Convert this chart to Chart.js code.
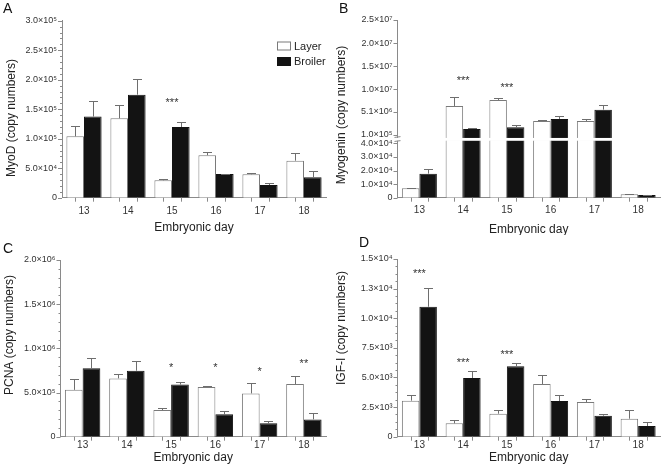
<!DOCTYPE html>
<html>
<head>
<meta charset="utf-8">
<style>
  body { margin:0; background:#fff; width:664px; height:471px; position:relative; overflow:hidden; font-family:"Liberation Sans", Arial, sans-serif; }
  .pane { position:absolute; }
  .tag { position:absolute; font-size:14px; line-height:14px; color:#111; }
</style>
</head>
<body>
<div class="pane" style="left:0;top:0"><canvas id="cA" width="332" height="235"></canvas></div>
<div class="pane" style="left:332px;top:0"><canvas id="cB" width="332" height="235"></canvas></div>
<div class="pane" style="left:0;top:235px"><canvas id="cC" width="332" height="236"></canvas></div>
<div class="pane" style="left:332px;top:235px"><canvas id="cD" width="332" height="236"></canvas></div>
<div class="tag" style="left:3px;top:1px">A</div>
<div class="tag" style="left:339px;top:1px">B</div>
<div class="tag" style="left:3px;top:241px">C</div>
<div class="tag" style="left:359px;top:235px">D</div>

<script src="https://cdn.jsdelivr.net/npm/chart.js"></script>
<script>
  const days = ['13', '14', '15', '16', '17', '18'];

  // A - MyoD
  const layerA     = [104000, 134500, 29500, 72000, 39700, 62700];
  const layerAErr  = [18000, 22000, 2000, 6000, 2300, 12400];
  const broilerA   = [137500, 174600, 119800, 40000, 21500, 34600];
  const broilerAErr = [26500, 26000, 8000, 1000, 2800, 11300];
  const sigA  = ['', '', '***', '', '', ''];
  const sigAy = [null, null, 165600, null, null, null];

  // B - Myogenin (broken axis)
  const layerB     = [6900, 6380000, 7680000, 3130000, 3130000, 2500];
  const layerBErr  = [300, 2000000, 360000, 220000, 360000, 400];
  const broilerB   = [17700, 1400000, 1760000, 3560000, 5580000, 2000];
  const broilerBErr = [3200, 290000, 430000, 580000, 1090000, 200];
  const sigB  = ['', '***', '***', '', '', ''];
  const sigBy = [null, 12600000, 11000000, null, null, null];

  // C - PCNA
  const layerC     = [530000, 660000, 302000, 562000, 490000, 596000];
  const layerCErr  = [118000, 46000, 19000, 12000, 114000, 94000];
  const broilerC   = [774000, 747000, 590000, 253000, 151000, 196000];
  const broilerCErr = [113000, 110000, 33000, 37000, 23000, 68000];
  const sigC  = ['', '', '*', '*', '*', '**'];
  const sigCy = [null, null, 811000, 811000, 774000, 860000];

  // D - IGF-I
  const layerD     = [3040, 1130, 1940, 4450, 2930, 1520];
  const layerDErr  = [480, 280, 290, 730, 230, 710];
  const broilerD   = [10970, 4960, 5940, 3010, 1770, 900];
  const broilerDErr = [1580, 610, 310, 510, 120, 320];
  const sigD  = ['***', '***', '***', '', '', ''];
  const sigDy = [14000, 6530, 7170, null, null, null];

  const yTicksA = [0, 50000, 100000, 150000, 200000, 250000, 300000];
  const yTicksBLow = [0, 10000, 20000, 30000, 40000];
  const yTicksBHigh = [100000, 5100000, 10000000, 15000000, 20000000, 25000000];
  const yTicksC = [0, 500000, 1000000, 1500000, 2000000];
  const yTicksD = [0, 2500, 5000, 7500, 10000, 12500, 15000];

  const lowMax = 43000;      // top of lower segment in B
  const highMin = -830000;   // bottom of upper segment in B

  const LAYER = { backgroundColor: '#ffffff', borderColor: '#7a7a7a' };
  const BROILER = { backgroundColor: '#131313', borderColor: '#131313' };
  const AXIS = '#8a8a8a';

  Chart.defaults.font.family = '"Liberation Sans", Arial, sans-serif';

  const sup = { '0': '⁰', '1': '¹', '2': '²', '3': '³', '4': '⁴', '5': '⁵', '6': '⁶', '7': '⁷', '8': '⁸', '9': '⁹' };
  function sci(v) {
    if (v === 0) return '0';
    const e = Math.floor(Math.log10(v) + 1e-9);
    const m = v / Math.pow(10, e);
    return m.toFixed(1) + '×10' + String(e).split('').map(c => sup[c]).join('');
  }

  function minorList(ticks, step) {
    const out = [];
    const lo = ticks[0], hi = ticks[ticks.length - 1];
    for (let v = lo; v <= hi + 1e-6; v += step) {
      if (!ticks.some(t => Math.abs(t - v) < step / 10)) out.push(v);
    }
    return out;
  }

  // error bars, tick marks, significance stars, legend, axis break, y title
  const marks = {
    id: 'marks',
    afterDraw(chart, args, o) {
      const ctx = chart.ctx, area = chart.chartArea;
      ctx.save();

      if (o.brk) {
        const yb = chart.scales[o.brk].top;
        ctx.fillStyle = '#fff';
        ctx.fillRect(area.left - 1, yb - 1.3, area.right - area.left + 2, 2.8);
        ctx.strokeStyle = AXIS; ctx.lineWidth = 1;
        ctx.beginPath();
        ctx.moveTo(area.left - 3, yb - 1.8); ctx.lineTo(area.left + 3, yb - 2.6);
        ctx.moveTo(area.left - 3, yb + 2.2); ctx.lineTo(area.left + 3, yb + 1.4);
        ctx.stroke();
      }

      // y tick marks
      ctx.strokeStyle = AXIS; ctx.lineWidth = 1;
      (o.yticks || []).forEach(t => {
        const s = chart.scales[t.id];
        ctx.beginPath();
        t.major.forEach(v => { const y = Math.round(s.getPixelForValue(v)) + 0.5; ctx.moveTo(s.right - 4, y); ctx.lineTo(s.right, y); });
        (t.minor || []).forEach(v => { const y = Math.round(s.getPixelForValue(v)) + 0.5; ctx.moveTo(s.right - 2, y); ctx.lineTo(s.right, y); });
        ctx.stroke();
      });

      // x tick marks under each bar
      const m0 = chart.getDatasetMeta(0), m1 = chart.getDatasetMeta(1);
      ctx.beginPath();
      [m0, m1].forEach(m => m.data.forEach(bar => {
        const x = Math.round(bar.x) + 0.5;
        ctx.moveTo(x, area.bottom); ctx.lineTo(x, area.bottom + 4);
      }));
      ctx.stroke();

      // error bars
      ctx.strokeStyle = '#6e6e6e';
      chart.data.datasets.forEach((ds, i) => {
        if (!ds.err) return;
        const meta = chart.getDatasetMeta(i);
        const ys = chart.scales[meta.yAxisID];
        meta.data.forEach((bar, j) => {
          const v = ds.data[j], e = ds.err[j];
          if (v == null || e == null) return;
          const x = Math.round(bar.x) + 0.5;
          const y0 = ys.getPixelForValue(v), y1 = Math.round(ys.getPixelForValue(v + e)) + 0.5;
          ctx.beginPath();
          ctx.moveTo(x, y0); ctx.lineTo(x, y1);
          ctx.moveTo(x - 4.5, y1); ctx.lineTo(x + 4.5, y1);
          ctx.stroke();
        });
      });

      // significance stars
      if (o.stars) {
        const ys = chart.scales[o.stars.axis];
        ctx.fillStyle = '#333';
        ctx.font = '11px "Liberation Sans", Arial, sans-serif';
        ctx.textAlign = 'center';
        ctx.textBaseline = 'alphabetic';
        o.stars.text.forEach((t, j) => {
          if (!t) return;
          const x = (m0.data[j].x + m1.data[j].x) / 2;
          ctx.fillText(t, x, ys.getPixelForValue(o.stars.at[j]) + 6.4);
        });
      }

      // legend
      if (o.legend) {
        const L = o.legend;
        ctx.font = '11px "Liberation Sans", Arial, sans-serif';
        ctx.textAlign = 'left';
        ctx.textBaseline = 'middle';
        [0, 1].forEach(i => {
          const ds = chart.data.datasets[i];
          const y = L.y + i * L.dy;
          ctx.fillStyle = ds.backgroundColor;
          ctx.fillRect(L.x, y, L.w, L.h);
          ctx.strokeStyle = ds.borderColor;
          ctx.strokeRect(L.x + 0.5, y + 0.5, L.w - 1, L.h - 1);
          ctx.fillStyle = '#222';
          ctx.fillText(ds.label, L.x + L.w + 3, y + L.h / 2 + 0.5);
        });
      }

      // y title
      if (o.ytitle) {
        ctx.translate(o.ytitle.x, o.ytitle.y);
        ctx.rotate(-Math.PI / 2);
        ctx.fillStyle = '#222';
        ctx.font = '12px "Liberation Sans", Arial, sans-serif';
        ctx.textAlign = 'center';
        ctx.textBaseline = 'middle';
        ctx.fillText(o.ytitle.text, 0, 0);
      }
      ctx.restore();
    }
  };

  function yAxis(min, max, ticks, width, extra) {
    return Object.assign({
      type: 'linear', min: min, max: max, stacked: false,
      grid: { display: false, drawTicks: false },
      border: { display: true, color: AXIS, width: 1 },
      ticks: { color: '#333', font: { size: 9 }, padding: 5, autoSkip: false, callback: v => sci(v) },
      afterBuildTicks: s => { s.ticks = ticks.map(v => ({ value: v })); },
      afterFit: s => { s.width = width; }
    }, extra || {});
  }

  function xAxis(height, pad, titlePad) {
    return {
      grid: { display: false, drawTicks: false },
      border: { display: true, color: AXIS, width: 1 },
      ticks: { color: '#333', font: { size: 10 }, padding: pad },
      title: { display: true, text: 'Embryonic day', color: '#222', font: { size: 12 }, padding: { top: 0, bottom: titlePad } },
      afterFit: s => { s.height = height; }
    };
  }

  function series(label, data, err, style, extra) {
    return Object.assign({ label: label, data: data, err: err, borderWidth: 1 }, style, extra || {});
  }

  function makeChart(id, cfg) {
    return new Chart(document.getElementById(id), {
      type: 'bar',
      data: { labels: days, datasets: cfg.datasets },
      options: {
        responsive: false,
        animation: false,
        layout: { padding: { left: 0, top: cfg.top, right: cfg.right, bottom: 0 } },
        datasets: { bar: { categoryPercentage: 0.8, barPercentage: 1 } },
        plugins: { legend: { display: false }, tooltip: { enabled: false }, marks: cfg.marks },
        scales: cfg.scales
      },
      plugins: [marks]
    });
  }

  // A
  makeChart('cA', {
    top: 20.7, right: 6,
    datasets: [
      series('Layer', layerA, layerAErr, LAYER),
      series('Broiler', broilerA, broilerAErr, BROILER)
    ],
    scales: { x: xAxis(37.3, 7.5, 0), y: yAxis(0, 300000, yTicksA, 62) },
    marks: {
      yticks: [{ id: 'y', major: yTicksA, minor: minorList(yTicksA, 10000) }],
      stars: { axis: 'y', text: sigA, at: sigAy },
      legend: { x: 277, y: 41.5, dy: 15.5, w: 14, h: 9 },
      ytitle: { text: 'MyoD (copy numbers)', x: 11.7, y: 118 }
    }
  });

  // B
  makeChart('cB', {
    top: 20, right: 4,
    datasets: [
      series('Layer', layerB.map(v => Math.min(v, lowMax)), layerB.map((v, i) => v <= lowMax ? layerBErr[i] : null), LAYER, { yAxisID: 'yLow', stack: 'L' }),
      series('Broiler', broilerB.map(v => Math.min(v, lowMax)), broilerB.map((v, i) => v <= lowMax ? broilerBErr[i] : null), BROILER, { yAxisID: 'yLow', stack: 'B' }),
      series('Layer', layerB.map(v => v > lowMax ? v : null), layerB.map((v, i) => v > lowMax ? layerBErr[i] : null), LAYER, { yAxisID: 'yHigh', stack: 'L', base: highMin }),
      series('Broiler', broilerB.map(v => v > lowMax ? v : null), broilerB.map((v, i) => v > lowMax ? broilerBErr[i] : null), BROILER, { yAxisID: 'yHigh', stack: 'B', base: highMin })
    ],
    scales: {
      x: xAxis(37.3, 6.8, -2.2),
      yLow: yAxis(0, lowMax, yTicksBLow, 65.5, { position: 'left', stack: 'yb', stackWeight: 1 }),
      yHigh: yAxis(highMin, 25000000, yTicksBHigh, 65.5, { position: 'left', stack: 'yb', stackWeight: 2.04 })
    },
    marks: {
      brk: 'yLow',
      yticks: [{ id: 'yHigh', major: yTicksBHigh }, { id: 'yLow', major: yTicksBLow }],
      stars: { axis: 'yHigh', text: sigB, at: sigBy },
      ytitle: { text: 'Myogenin (copy numbers)', x: 9.7, y: 115 }
    }
  });

  // C
  makeChart('cC', {
    top: 25, right: 6,
    datasets: [
      series('Layer', layerC, layerCErr, LAYER),
      series('Broiler', broilerC, broilerCErr, BROILER)
    ],
    scales: { x: xAxis(34.3, 2.5, 6.5), y: yAxis(0, 2000000, yTicksC, 60.5) },
    marks: {
      yticks: [{ id: 'y', major: yTicksC, minor: minorList(yTicksC, 100000) }],
      stars: { axis: 'y', text: sigC, at: sigCy },
      ytitle: { text: 'PCNA (copy numbers)', x: 10, y: 100 }
    }
  });

  // D
  makeChart('cD', {
    top: 24, right: 4,
    datasets: [
      series('Layer', layerD, layerDErr, LAYER),
      series('Broiler', broilerD, broilerDErr, BROILER)
    ],
    scales: { x: xAxis(34.3, 2.5, 6.5), y: yAxis(0, 15000, yTicksD, 65.5) },
    marks: {
      yticks: [{ id: 'y', major: yTicksD, minor: minorList(yTicksD, 625) }],
      stars: { axis: 'y', text: sigD, at: sigDy },
      ytitle: { text: 'IGF-I (copy numbers)', x: 9.7, y: 93 }
    }
  });
</script>
</body>
</html>
